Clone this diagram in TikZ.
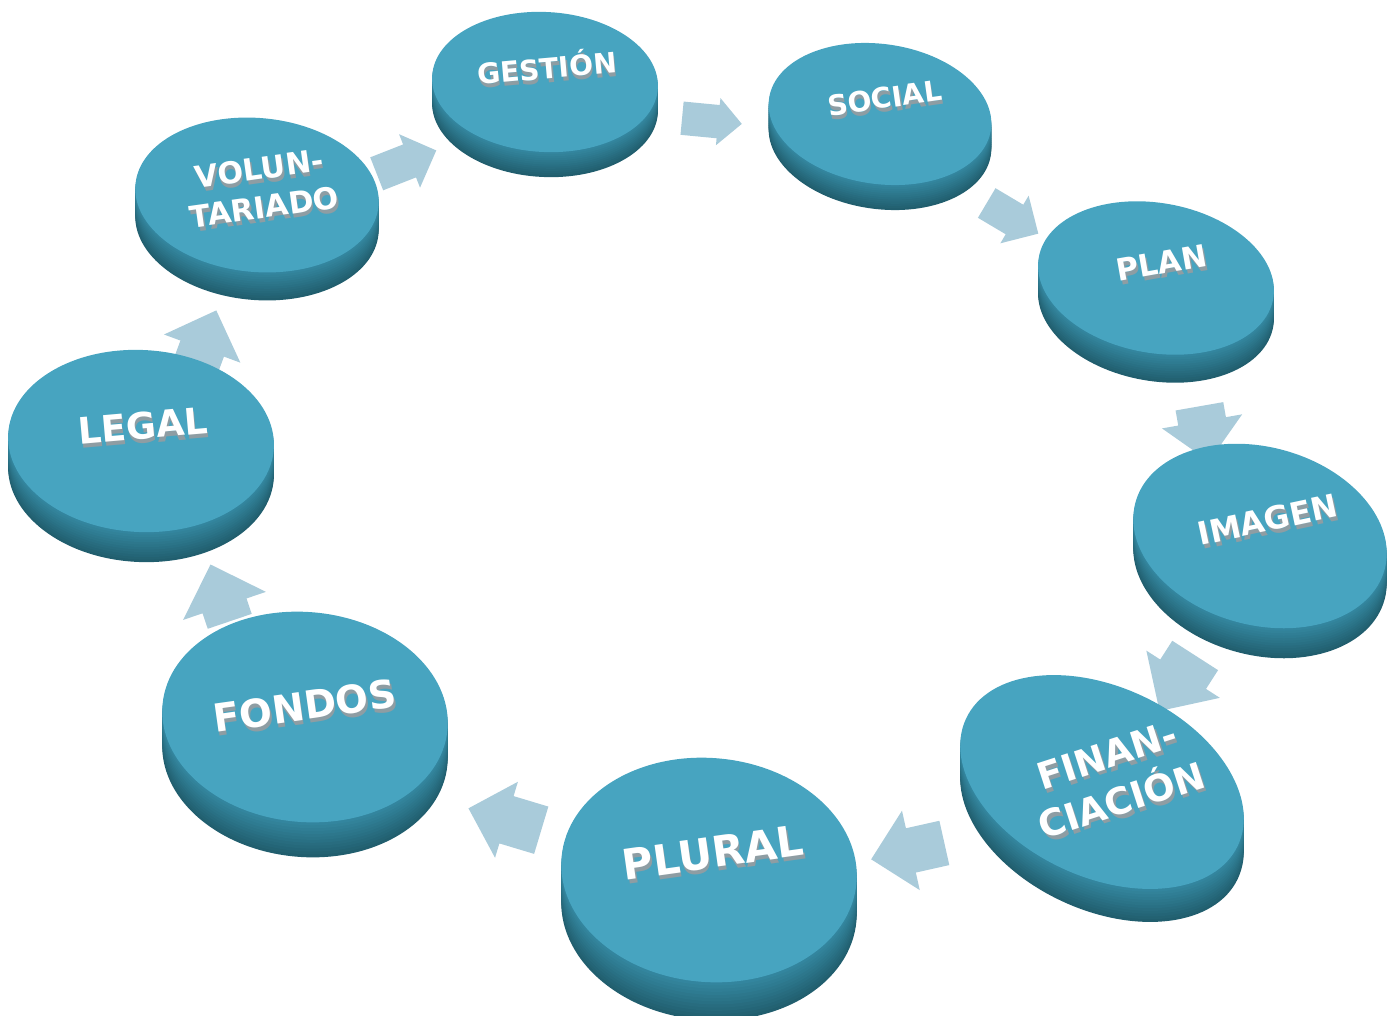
\documentclass[tikz,border=0pt]{standalone}
\usepackage{fontspec}
\setmainfont{DejaVu Sans}
\usetikzlibrary{shapes.geometric,shapes.arrows}

\definecolor{discface}{HTML}{47A4C0}
\definecolor{sidelight}{HTML}{3589A2}
\definecolor{sidedark}{HTML}{215E6E}
\definecolor{flowblue}{HTML}{A9CBDA}
\definecolor{emboss}{HTML}{8E9DA3}

\newcommand{\emb}[1]{\makebox[0pt][l]{\hspace{0.3pt}\raisebox{-1.2pt}{\color{emboss}#1}}#1}

\pgfdeclarelayer{bg}
\pgfsetlayers{bg,main}

\tikzset{
  face/.style={ellipse, fill=discface, inner sep=0pt},
  lbl/.style={text=white, font=\bfseries, align=center, inner sep=0pt},
  flow/.style={single arrow, fill=flowblue, inner xsep=0pt,
    single arrow head indent=0pt, sloped, allow upside down},
}

\begin{document}
\begin{tikzpicture}

  \useasboundingbox (0,0) rectangle (14,10.15);

  \foreach \cx/\cy/\rx/\ry/\r/\t in {
      2.57/8.20/1.22/.77/-5/.28, 5.45/9.33/1.13/.70/-3/.25,
      8.80/9.01/1.12/.70/-8/.25, 11.56/7.37/1.19/.75/-10/.28,
      12.60/4.79/1.29/.89/-15/.30, 11.02/2.33/1.50/.95/-25/.33,
      7.09/1.45/1.48/1.12/-5/.38, 3.05/2.98/1.43/1.05/-5/.35,
      1.41/5.74/1.33/.91/-3/.30}{
    \foreach \k in {12,...,1}{
      \pgfmathsetmacro\p{100*(1-\k/12)}
      \fill[sidelight!\p!sidedark, shift={({\cx},{\cy-\k*\t/12})}, rotate=\r]
        (0,0) ellipse ({\rx cm} and {\ry cm});
    }
  }

  \begin{scope}[every node/.style={face}]
    \node[minimum width=2.44cm, minimum height=1.54cm, rotate=-5]  (vol)  at (2.57,8.20)  {};
    \node[minimum width=2.26cm, minimum height=1.40cm, rotate=-3]  (ges)  at (5.45,9.33)  {};
    \node[minimum width=2.24cm, minimum height=1.40cm, rotate=-8]  (soc)  at (8.80,9.01)  {};
    \node[minimum width=2.38cm, minimum height=1.50cm, rotate=-10] (plan) at (11.56,7.37) {};
    \node[minimum width=2.58cm, minimum height=1.78cm, rotate=-15] (img)  at (12.60,4.79) {};
    \node[minimum width=3.00cm, minimum height=1.90cm, rotate=-25] (fin)  at (11.02,2.33) {};
    \node[minimum width=2.96cm, minimum height=2.24cm, rotate=-5]  (plu)  at (7.09,1.45)  {};
    \node[minimum width=2.86cm, minimum height=2.10cm, rotate=-5]  (fon)  at (3.05,2.98)  {};
    \node[minimum width=2.66cm, minimum height=1.82cm, rotate=-3]  (leg)  at (1.41,5.74)  {};
  \end{scope}

  \begin{scope}[every node/.style={lbl}]
    \node[rotate=8, font=\bfseries\fontsize{8.6}{11}\selectfont]   (t-vol)  at (2.62,8.25)  {\emb{VOLUN-}\\\emb{TARIADO}};
    \node[rotate=5, font=\bfseries\fontsize{8}{9}\selectfont]      (t-ges)  at (5.47,9.47)  {\emb{GESTIÓN}};
    \node[rotate=8, font=\bfseries\fontsize{8}{9}\selectfont]      (t-soc)  at (8.85,9.15)  {\emb{SOCIAL}};
    \node[rotate=10, font=\bfseries\fontsize{8.7}{9}\selectfont]   (t-plan) at (11.62,7.50) {\emb{PLAN}};
    \node[rotate=12, font=\bfseries\fontsize{9}{10}\selectfont]    (t-img)  at (12.68,4.93) {\emb{IMAGEN}};
    \node[rotate=18, font=\bfseries\fontsize{10.5}{13.5}\selectfont] (t-fin) at (11.15,2.35) {\emb{FINAN-}\\\emb{CIACIÓN}};
    \node[rotate=8, font=\bfseries\fontsize{12}{13}\selectfont]    (t-plu)  at (7.13,1.60)  {\emb{PLURAL}};
    \node[rotate=8, font=\bfseries\fontsize{11}{12}\selectfont]    (t-fon)  at (3.05,3.07)  {\emb{FONDOS}};
    \node[rotate=5, font=\bfseries\fontsize{10.4}{11}\selectfont]  (t-leg)  at (1.43,5.87)  {\emb{LEGAL}};
  \end{scope}

  \begin{pgfonlayer}{bg}
    \begin{scope}[every node/.style={flow}]
      \path (vol.center)  -- node[pos=.460, yshift=-.24cm, minimum height=.64cm, inner ysep=.17cm,  single arrow head extend=.11cm] {} (ges.center);
      \path (ges.center)  -- node[pos=.480, yshift=-.23cm, minimum height=.60cm, inner ysep=.16cm,  single arrow head extend=.07cm] {} (soc.center);
      \path (soc.center)  -- node[pos=.494, yshift=-.22cm, minimum height=.60cm, inner ysep=.165cm, single arrow head extend=.105cm] {} (plan.center);
      \path (plan.center) -- node[pos=.542, yshift=-.11cm, rotate=-12, minimum height=.56cm, inner ysep=.235cm, single arrow head extend=.165cm] {} (img.center);
      \path (img.center)  -- node[pos=.530, yshift=.10cm,  minimum height=.66cm, inner ysep=.265cm, single arrow head extend=.165cm] {} (fin.center);
      \path (fin.center)  -- node[pos=.480, yshift=.25cm,  minimum height=.75cm, inner ysep=.22cm,  single arrow head extend=.18cm] {} (plu.center);
      \path (plu.center)  -- node[pos=.455, yshift=.24cm, rotate=4, minimum height=.76cm, inner ysep=.24cm, single arrow head extend=.15cm] {} (fon.center);
      \path (fon.center)  -- node[pos=.432, yshift=.12cm, rotate=-12, minimum height=.60cm, inner ysep=.225cm, single arrow head extend=.205cm] {} (leg.center);
      \path (leg.center)  -- node[pos=.400, yshift=-.16cm, rotate=5, minimum height=.60cm, inner ysep=.225cm, single arrow head extend=.175cm] {} (vol.center);
    \end{scope}
  \end{pgfonlayer}

\end{tikzpicture}
\end{document}
